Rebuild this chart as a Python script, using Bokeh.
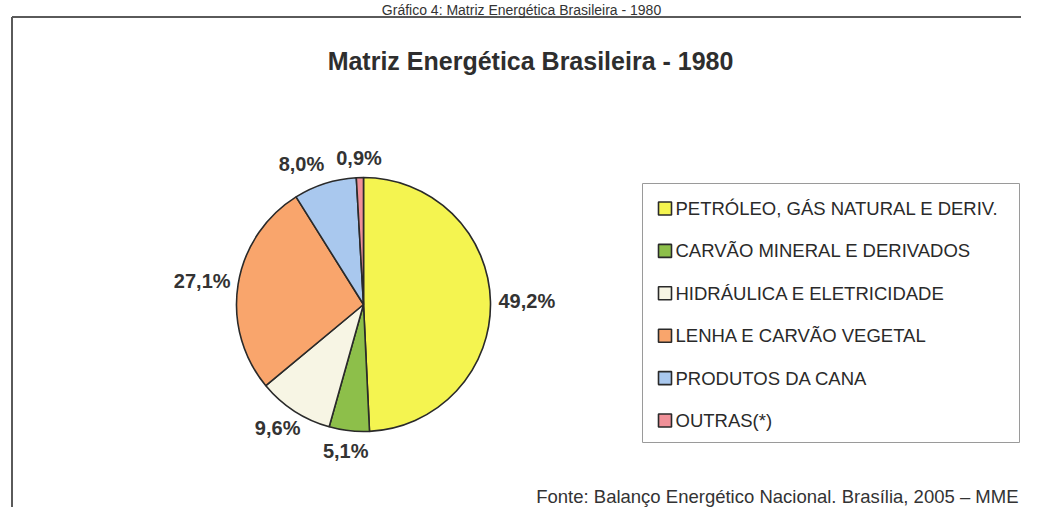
import math
from bokeh.plotting import figure
from bokeh.models import Range1d, ColumnDataSource
from bokeh.core.properties import value
from bokeh.embed import file_html
from bokeh.resources import INLINE

# ---- data ----
categories = [
    "PETRÓLEO, GÁS NATURAL E DERIV.",
    "CARVÃO MINERAL E DERIVADOS",
    "HIDRÁULICA E ELETRICIDADE",
    "LENHA E CARVÃO VEGETAL",
    "PRODUTOS DA CANA",
    "OUTRAS(*)",
]
shares = [49.2, 5.1, 9.6, 27.1, 8.0, 0.9]
share_labels = ["49,2%", "5,1%", "9,6%", "27,1%", "8,0%", "0,9%"]
colors = ["#F4F450", "#8DBF4A", "#F7F5E4", "#F9A56C", "#A9C8EE", "#F09098"]

caption = "Gráfico 4: Matriz Energética Brasileira - 1980"
title = "Matriz Energética Brasileira - 1980"
source_note = "Fonte: Balanço Energético Nacional. Brasília, 2005 – MME"

W, H = 1021, 507
FONT = "Liberation Sans"

p = figure(width=W, height=H, output_backend="svg", toolbar_location=None,
           x_range=Range1d(0, W), y_range=Range1d(0, H),
           min_border=0, outline_line_color=None)
p.axis.visible = False
p.grid.visible = False
p.background_fill_color = "white"
p.border_fill_color = "white"

def Y(y_top):
    return H - y_top

# frame of the scanned chart area
p.segment(x0=[11.5, 11.5], y0=[Y(16.5), Y(16.5)], x1=[W + 5, 11.5], y1=[Y(16.5), -5],
          line_color="#5a5a5a", line_width=2)

# caption (above the frame)
p.text(x=[521], y=[Y(1)], text=[caption], text_font=value(FONT),
       text_font_size="14px", text_color="#333333", text_align="center",
       text_baseline="top")

# title
p.text(x=[530], y=[Y(60)], text=[title], text_font=value(FONT),
       text_font_size="25px", text_font_style="bold", text_color="#2e2e2e",
       text_align="center", text_baseline="middle")

# pie
cx, cy, r = 363.0, Y(304.0), 127.0
total = sum(shares)
starts, ends, mids = [], [], []
acc = 0.0
for s in shares:
    a0 = math.pi / 2 - 2 * math.pi * acc / total
    acc += s
    a1 = math.pi / 2 - 2 * math.pi * acc / total
    starts.append(a0)
    ends.append(a1)
    mids.append((a0 + a1) / 2)

src = ColumnDataSource(dict(start=starts, end=ends, color=colors))
p.wedge(x=cx, y=cy, radius=r, start_angle="start", end_angle="end",
        direction="clock", fill_color="color", line_color="#2a2a2a",
        line_width=1.6, source=src)

# data labels outside the pie (Excel-like "outside end")
LBL_PX = 20
char_w = {",": 0.278, "%": 0.889}
def text_w(t):
    return sum(char_w.get(ch, 0.556) for ch in t) * LBL_PX

gap, box_h = 8.0, 24.0
lx, ly, lw = [], [], []
for m, t in zip(mids, share_labels):
    c, s = math.cos(m), math.sin(m)
    w = text_w(t)
    lx.append(cx + (r + gap) * c + c * w / 2)
    ly.append(cy + (r + gap) * s + s * box_h / 2)
    lw.append(w)
# simple overlap avoidance
n = len(lx)
for i in range(n):
    for j in range(i + 1, n):
        if abs(ly[i] - ly[j]) < box_h:
            need = (lw[i] + lw[j]) / 2 + 12
            if abs(lx[i] - lx[j]) < need:
                if lx[i] < lx[j]:
                    lx[i] = lx[j] - need
                else:
                    lx[j] = lx[i] - need
lsrc = ColumnDataSource(dict(x=lx, y=ly, t=share_labels))
p.text(x="x", y="y", text="t", text_align="center", text_baseline="middle",
       source=lsrc, text_font=value(FONT), text_font_size=f"{LBL_PX}px",
       text_font_style="bold", text_color="#333333")

# legend (manual)
lg_left, lg_top, lg_right, lg_bottom = 642, 183, 1019, 442
p.quad(left=[lg_left], right=[lg_right], top=[Y(lg_top)], bottom=[Y(lg_bottom)],
       fill_color="white", line_color="#9a9a9a", line_width=1)
step = 42.4
first = 208.0
ys = [Y(first + i * step) for i in range(len(categories))]
p.rect(x=[664.5] * len(categories), y=ys, width=13, height=13,
       fill_color=colors, line_color="#2a2a2a", line_width=1.6)
p.text(x=[675] * len(categories), y=ys, text=categories,
       text_font=value(FONT), text_font_size="18.5px", text_color="#2a2a2a",
       text_align="left", text_baseline="middle")

# source note
p.text(x=[1018], y=[Y(506)], text=[source_note], text_font=value(FONT),
       text_font_size="18.5px", text_color="#333333", text_align="right",
       text_baseline="bottom")

open("out.html", "w").write(file_html(p, INLINE))
